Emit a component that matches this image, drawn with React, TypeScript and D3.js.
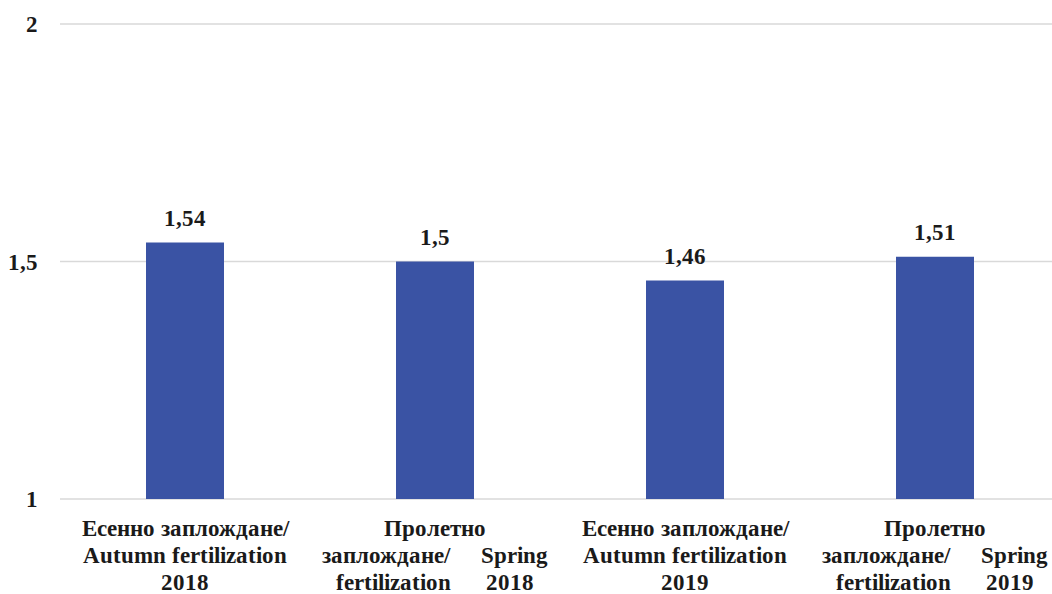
import React from "react";
import * as d3 from "d3";

const categories = ["c1", "c2", "c3", "c4"];
const values = [1.54, 1.5, 1.46, 1.51];
const valueLabels = ["1,54", "1,5", "1,46", "1,51"];
const yTicks = [1, 1.5, 2];
const yTickLabels = ["1", "1,5", "2"];
// category label lines; a line with two entries is justified (left word / right word)
const catLines: string[][][] = [
  [["Есенно заплождане/"], ["Autumn fertilization"], ["2018"]],
  [["Пролетно"], ["заплождане/", "Spring"], ["fertilization", "2018"]],
  [["Есенно заплождане/"], ["Autumn fertilization"], ["2019"]],
  [["Пролетно"], ["заплождане/", "Spring"], ["fertilization", "2019"]],
];

const W = 1052;
const H = 594;
const left = 60;
const right = 1060;
const top = 24;
const bottom = 499;

const fontCss = `
@font-face {
  font-family: "ChartSerif";
  font-weight: 700;
  src: local("Liberation Serif Bold"), local("LiberationSerif-Bold"), local("Times New Roman Bold"), local("TimesNewRomanPS-BoldMT"), local("Tinos Bold");
}
.lbl { font-family: "ChartSerif", "Liberation Serif", "Times New Roman", Tinos, serif; font-weight: 700; font-size: 23px; fill: #1a1a1a; }
`;

export default function App() {
  const x = d3.scaleBand<string>().domain(categories).range([left, right]).paddingInner(0.688).paddingOuter(0.344);
  const y = d3.scaleLinear().domain([1, 2]).range([bottom, top]);
  const justifyHalf = [0, 113, 99];
  return (
    <svg width={W} height={H} style={{ position: "absolute", left: 0, top: 0 }}>
      <style>{fontCss}</style>
      {yTicks.map((t, i) => (
        <g key={t}>
          <line x1={left} x2={right} y1={y(t)} y2={y(t)} stroke="#D9D9D9" strokeWidth={1.5} />
          <text className="lbl" x={38} y={y(t) + 8} textAnchor="end">
            {yTickLabels[i]}
          </text>
        </g>
      ))}
      {categories.map((c, i) => {
        const bx = x(c)!;
        const cx = bx + x.bandwidth() / 2;
        return (
          <g key={c}>
            <rect x={bx} y={y(values[i])} width={x.bandwidth()} height={bottom - y(values[i])} fill="#3A53A4" />
            <text className="lbl" x={cx} y={y(values[i]) - 17} textAnchor="middle">
              {valueLabels[i]}
            </text>
            {catLines[i].map((line, li) => {
              const ly = 536 + li * 27;
              if (line.length === 1) {
                return (
                  <text className="lbl" key={li} x={cx} y={ly} textAnchor="middle">
                    {line[0]}
                  </text>
                );
              }
              return (
                <g key={li}>
                  <text className="lbl" x={cx - justifyHalf[li]} y={ly} textAnchor="start">
                    {line[0]}
                  </text>
                  <text className="lbl" x={cx + justifyHalf[li]} y={ly} textAnchor="end">
                    {line[1]}
                  </text>
                </g>
              );
            })}
          </g>
        );
      })}
    </svg>
  );
}
